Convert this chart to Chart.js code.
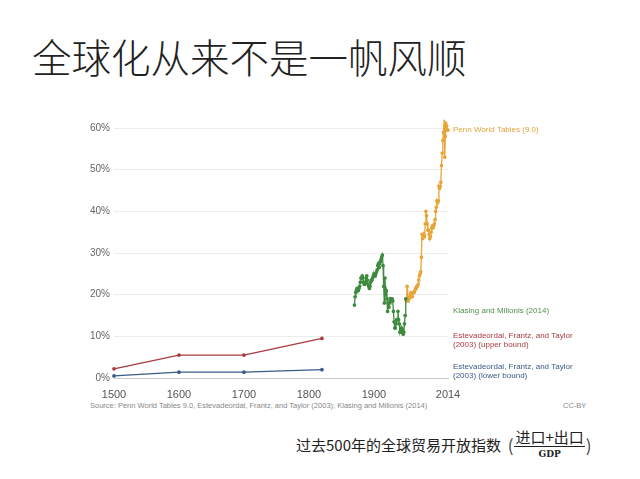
<!DOCTYPE html>
<html>
<head>
<meta charset="utf-8">
<script src="https://cdn.jsdelivr.net/npm/chart.js@4"></script>
<style>
  body { margin: 0; width: 640px; height: 479px; background: #fff; position: relative; overflow: hidden; font-family: "Liberation Sans", Arial, sans-serif; }
  #title { position: absolute; left: 32px; top: 32px; font-family: "Noto Sans CJK SC", sans-serif; font-weight: 200; font-size: 39.5px; color: #222; white-space: nowrap; line-height: 48px; }
  #wrap { position: absolute; left: 0; top: 100px; width: 640px; height: 300px; }
  #source { position: absolute; left: 90px; top: 401px; font-size: 7.5px; color: #888; }
  #ccby { position: absolute; left: 563px; top: 401px; font-size: 7.5px; color: #888; }
  #caption { position: absolute; left: 296px; top: 428px; font-family: "Noto Sans CJK SC", sans-serif; font-size: 15px; color: #222; white-space: nowrap; display: flex; align-items: center; }
  .frac { display: inline-flex; flex-direction: column; align-items: center; margin: 0 1px; }
  .num { font-size: 15px; border-bottom: 1px solid #222; line-height: 18px; padding: 0 1px; }
  .den { font-family: "DejaVu Serif", serif; font-size: 9px; line-height: 14px; font-weight: bold; }
  .paren { font-size: 17px; color: #444; }
</style>
</head>
<body>
<div id="title">全球化从来不是一帆风顺</div>
<div id="wrap"><canvas id="myChart"></canvas></div>
<div id="source">Source: Penn World Tables 9.0, Estevadeordal, Frantz, and Taylor (2003); Klasing and Milionis (2014)</div>
<div id="ccby">CC-BY</div>
<div id="caption">过去500年的全球贸易开放指数&nbsp;&nbsp;<span class="paren">(</span><span class="frac"><span class="num">进口+出口</span><span class="den">GDP</span></span><span class="paren">)</span></div>
<script>
const xTicks = [1500, 1600, 1700, 1800, 1900, 2014];
const yTicks = [0, 10, 20, 30, 40, 50, 60];

const eftYears = [1500, 1600, 1700, 1820];
const eftUpper = [2.2, 5.5, 5.5, 9.5];
const eftLower = [0.5, 1.4, 1.4, 2.0];

const kmYears = [];
for (let y = 1870; y <= 1949; y++) kmYears.push(y);
const kmValues = [
  17.5, 19.5, 20.5, 21, 21.5, 21, 21, 21.5, 22, 23,
  24, 24, 24.5, 24, 23, 22.5, 22.5, 23, 24, 24.5,
  23.5, 22.5, 22, 21.5, 22, 23, 23.5, 23.5, 24, 24.5,
  25, 24.5, 24.5, 25, 25.5, 26, 27, 27.5, 26.5, 27.5,
  28, 28.5, 29, 29.5, 27, 22, 18, 24, 20, 21,
  19, 16, 18, 17, 18, 19, 18.5, 19, 19, 18.5,
  16, 13.5, 12, 12, 13, 14, 14, 16, 14, 13,
  11, 11.5, 11, 12, 11.5, 10.5, 11, 13, 15, 19
];

const pwtYears = [];
for (let y = 1950; y <= 2014; y++) pwtYears.push(y);
const pwtValues = [
  18.5, 22, 19, 18.5, 19, 19.5, 20, 20.5, 19.5, 19.5,
  20.5, 20.5, 20.5, 21, 21.5, 21.5, 22, 22, 22.5, 23.5,
  24.5, 25, 25.5, 29, 34.5, 33.5, 34, 34.5, 34, 37,
  40, 39, 37, 35.5, 35.5, 34.5, 33.5, 34, 35, 36,
  36.5, 36, 36.5, 37, 38, 40, 41, 42.5, 42, 42.5,
  46, 45.5, 46, 47, 51, 54, 57, 59, 62, 53,
  58, 61.5, 60.5, 59.5, 59.5
];

function pts(xs, ys) { return xs.map((x, i) => ({ x: x, y: ys[i] })); }

const seriesLabels = [
  { text: ["Penn World Tables (9.0)"], color: "#e3a33a", y: 59.5 },
  { text: ["Klasing and Milionis (2014)"], color: "#4f8f4f", y: 16.2 },
  { text: ["Estevadeordal, Frantz, and Taylor", "(2003) (upper bound)"], color: "#a93a3f", y: 10.2 },
  { text: ["Estevadeordal, Frantz, and Taylor", "(2003) (lower bound)"], color: "#3b5a86", y: 2.6 }
];

const labelPlugin = {
  id: "seriesLabels",
  afterDraw(chart) {
    const c = chart.ctx;
    const yS = chart.scales.y;
    c.save();
    c.font = "8px 'Liberation Sans', Arial, sans-serif";
    c.textBaseline = "middle";
    seriesLabels.forEach(l => {
      const py = yS.getPixelForValue(l.y);
      l.text.forEach((t, i) => {
        c.fillStyle = l.color;
        c.fillText(t, chart.chartArea.right + 5, py + i * 9);
      });
    });
    c.restore();
  }
};

function ds(data, color) {
  return {
    data: data,
    borderColor: color,
    backgroundColor: color,
    borderWidth: 1.3,
    pointRadius: 1.2,
    pointHoverRadius: 2,
    tension: 0,
    clip: false
  };
}

const ctx = document.getElementById("myChart").getContext("2d");
new Chart(ctx, {
  type: "line",
  data: {
    datasets: [
      ds(pts(eftYears, eftUpper), "#a93a3f"),
      ds(pts(eftYears, eftLower), "#3b5a86"),
      ds(pts(kmYears, kmValues), "#3f8a3f"),
      ds(pts(pwtYears, pwtValues), "#e8a53a")
    ]
  },
  options: {
    responsive: true,
    maintainAspectRatio: false,
    animation: false,
    layout: { padding: { left: 0, right: 192, top: 28, bottom: 0 } },
    plugins: { legend: { display: false }, tooltip: { enabled: false } },
    scales: {
      x: {
        type: "linear",
        min: 1500,
        max: 2014,
        afterBuildTicks: s => { s.ticks = xTicks.map(v => ({ value: v })); },
        afterFit: s => { s.height = 22; },
        grid: { display: false },
        border: { color: "#c8c8c8" },
        ticks: { color: "#555", font: { size: 11, family: "'Liberation Sans', Arial, sans-serif" }, maxRotation: 0, padding: 2, callback: v => String(v) }
      },
      y: {
        min: 0,
        max: 60,
        afterBuildTicks: s => { s.ticks = yTicks.map(v => ({ value: v })); },
        afterFit: s => { s.width = 114; },
        grid: { color: "#ececec", drawTicks: false },
        border: { display: false },
        ticks: { color: "#666", font: { size: 10, family: "'Liberation Sans', Arial, sans-serif" }, padding: 4, callback: v => v + "%" }
      }
    }
  },
  plugins: [labelPlugin]
});
</script>
</body>
</html>
